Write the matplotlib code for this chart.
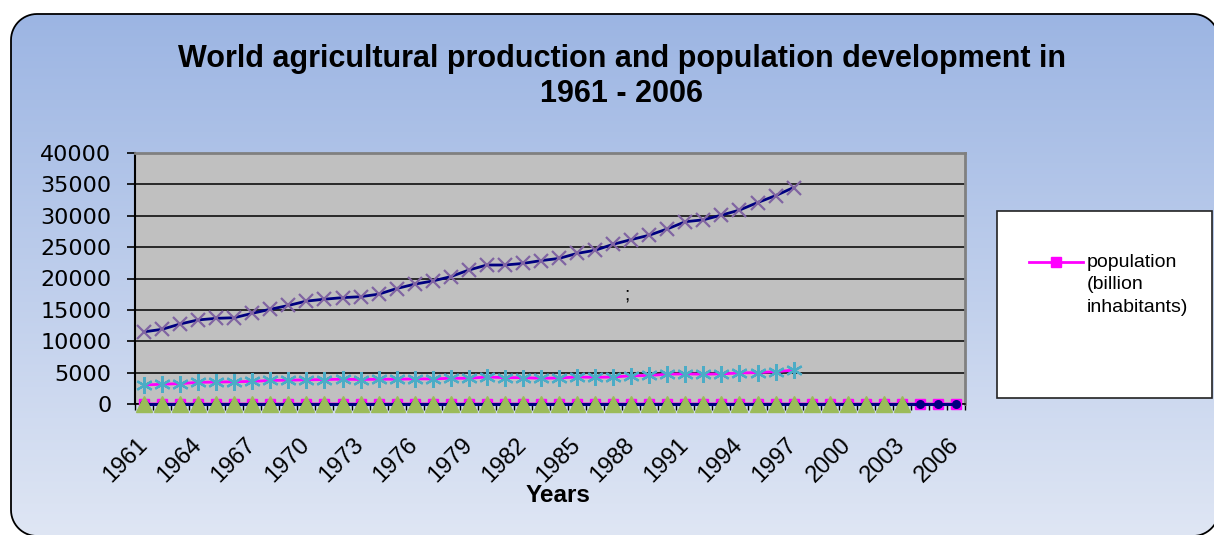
import numpy as np
import matplotlib
matplotlib.use("Agg")
import matplotlib.pyplot as plt
from matplotlib.colors import LinearSegmentedColormap
from matplotlib.patches import PathPatch, Rectangle
from matplotlib.path import Path
from matplotlib.lines import Line2D

plt.rcParams['font.family'] = ['Liberation Sans', 'DejaVu Sans']

# ---- data ----
years = list(range(1961, 2007))
year_labels = [str(y) for y in years[::3]]

# upper series (navy line, purple x markers), 1961-1997
production = [11500, 11900, 12750, 13400, 13650, 13750, 14450, 15100, 15700,
              16400, 16700, 16950, 17100, 17500, 18400, 19100, 19600, 20300,
              21350, 22150, 22150, 22400, 22850, 23200, 24000, 24500, 25450,
              26200, 26900, 27900, 29050, 29350, 30100, 30900, 32100, 33200,
              34500]

# middle series (magenta line, cyan asterisks), 1961-1997
second = [3030, 3150, 3250, 3450, 3500, 3550, 3600, 3750, 3800, 3850, 3900,
          3950, 3900, 3950, 3950, 4000, 4000, 4100, 4100, 4300, 4200, 4200,
          4100, 4150, 4300, 4250, 4300, 4500, 4550, 4750, 4800, 4750, 4800,
          4950, 5000, 5150, 5400]

# population in billions, 1961-2006
population = [3.09, 3.15, 3.21, 3.28, 3.34, 3.41, 3.48, 3.55, 3.62, 3.70,
              3.78, 3.85, 3.93, 4.00, 4.08, 4.15, 4.22, 4.30, 4.37, 4.45,
              4.53, 4.61, 4.69, 4.77, 4.85, 4.94, 5.03, 5.12, 5.21, 5.30,
              5.38, 5.47, 5.55, 5.63, 5.71, 5.79, 5.87, 5.95, 6.03, 6.11,
              6.19, 6.27, 6.35, 6.43, 6.51, 6.59]

# near-zero series at the baseline
baseline_navy = [0] * 46
baseline_green = [0] * 43  # 1961-2003

W, H = 1214, 535
fig = plt.figure(figsize=(W / 100, H / 100), dpi=100)
fig.patch.set_facecolor('white')

# background layer in pixel coordinates (y measured from the bottom)
bg = fig.add_axes([0, 0, 1, 1], zorder=0)
bg.set_xlim(0, W)
bg.set_ylim(0, H)
bg.axis('off')


def py(y):
    return H - y


def rounded_rect(x0, y0, x1, y1, r, n=16):
    # corner centres, walked counter-clockwise
    pts = []
    for cx, cy, a0 in [(x1 - r, y0 + r, -90), (x1 - r, y1 - r, 0),
                       (x0 + r, y1 - r, 90), (x0 + r, y0 + r, 180)]:
        ang = np.radians(np.linspace(a0, a0 + 90, n))
        pts.extend(zip(cx + r * np.cos(ang), cy + r * np.sin(ang)))
    pts.append(pts[0])
    return Path(pts, closed=True)


frame = PathPatch(rounded_rect(11, py(536), 1219, py(14), 26),
                  facecolor='none', edgecolor='black', linewidth=1.3,
                  zorder=3)
bg.add_patch(frame)
cmap = LinearSegmentedColormap.from_list('bgfade', ['#dfe6f4', '#9cb5e3'])
grad = np.linspace(0, 1, 256).reshape(-1, 1)
img = bg.imshow(grad, cmap=cmap, aspect='auto', origin='lower',
                extent=(11, 1219, py(536), py(14)), zorder=1)
img.set_clip_path(frame)

bg.text(622, py(76.5), 'World agricultural production and population development in\n1961 - 2006',
        ha='center', va='center', fontsize=22, fontweight='bold',
        linespacing=1.24, zorder=4)
bg.text(558, py(495), 'Years', ha='center', va='center', fontsize=17.5,
        fontweight='bold', zorder=4)

# legend box
bg.add_patch(Rectangle((997, py(398)), 215, 187, facecolor='white',
                       edgecolor='#222222', linewidth=1.2, zorder=4))
bg.add_line(Line2D([1029, 1056, 1083], [py(262)] * 3, color='#ff00ff',
                   linewidth=2, marker='s', markersize=6.5, markevery=[1],
                   zorder=5))
bg.text(1087, py(254), 'population\n(billion\ninhabitants)', ha='left',
        va='top', fontsize=14, linespacing=1.42, zorder=5)

# plot area
ax = fig.add_axes([135 / W, 1 - 404 / H, 830 / W, 251 / H], zorder=1)
ax.set_facecolor('#c0c0c0')
x_all = np.arange(len(years))

ax.plot(x_all, population, color='#ff00ff', linewidth=2, marker='s',
        markersize=7, clip_on=False, zorder=3)
ax.plot(x_all, baseline_navy, color='#000080', linewidth=2.2, marker='o',
        markersize=5.5, clip_on=False, zorder=4)
ax.plot(x_all[:len(baseline_green)], baseline_green, linestyle='none',
        marker='^', markersize=11, color='#9bbb59', clip_on=False, zorder=5)
ax.plot(x_all[:len(production)], production, color='#000080', linewidth=2,
        marker='x', markersize=10.5, markeredgewidth=1.6,
        markeredgecolor='#8064a2', zorder=6)
ax.plot(x_all[:len(second)], second, color='#ff00ff', linewidth=2,
        marker=(6, 2, 0), markersize=12, markeredgewidth=1.6,
        markeredgecolor='#4bacc6', zorder=6)

ax.text(26.75, 17300, ';', ha='center', va='center', fontsize=14)

ax.set_xlim(-0.5, len(years) - 0.5)
ax.set_ylim(0, 40000)
ax.set_yticks(range(0, 40001, 5000))
ax.yaxis.grid(True, color='black', linewidth=1.1)
ax.set_axisbelow(True)
ax.tick_params(axis='y', direction='out', length=6, width=1.2, pad=11,
               labelsize=16)
plt.setp(ax.get_yticklabels(), family='DejaVu Sans')

ax.set_xticks(x_all[::3])
ax.set_xticklabels(year_labels)
ax.set_xticks(np.arange(-0.5, len(years)), minor=True)
ax.tick_params(axis='x', which='major', length=0, pad=27, labelsize=17)
ax.tick_params(axis='x', which='minor', direction='out', length=4, width=1)
plt.setp(ax.get_xticklabels(), rotation=45, ha='right', va='center',
         rotation_mode='anchor')

for side in ('top', 'right'):
    ax.spines[side].set_color('#808080')
    ax.spines[side].set_linewidth(2)
ax.spines['left'].set_color('black')
ax.spines['left'].set_linewidth(1.5)
ax.spines['bottom'].set_color('black')
ax.spines['bottom'].set_linewidth(1.2)

fig.savefig('out.png', dpi=100)
